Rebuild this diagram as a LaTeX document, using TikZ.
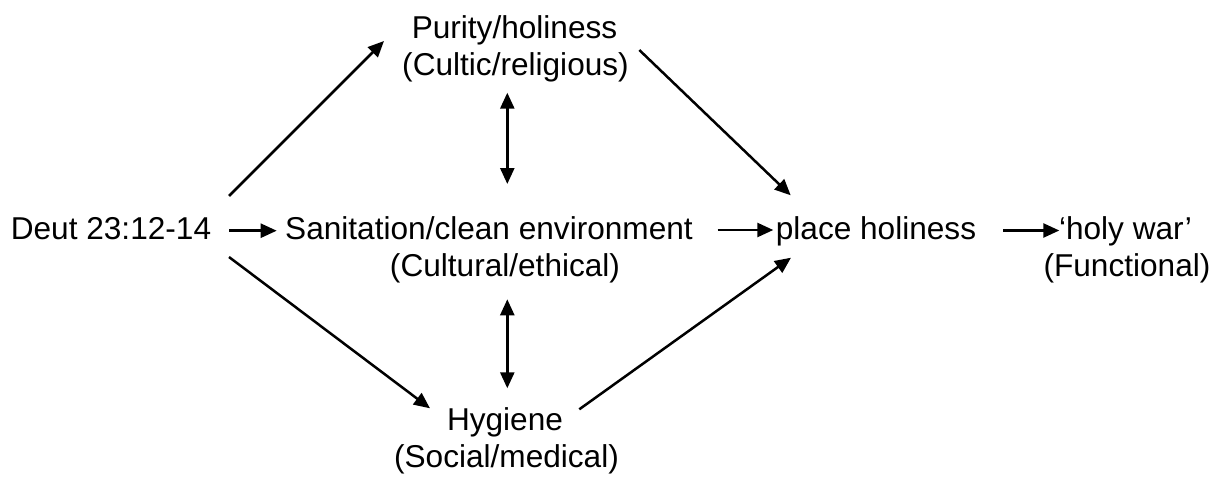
\documentclass[tikz,border=0pt]{standalone}
\usepackage{fontspec}
\setmainfont{Liberation Sans}
\usetikzlibrary{arrows.meta}
\begin{document}
\begin{tikzpicture}[x=1pt,y=-1pt,
  lbl/.style={inner sep=0pt, anchor=base, font=\fontsize{31.6}{37}\selectfont},
  arr/.style={line width=2.5pt, -{Triangle[length=16pt,width=14pt]}},
  darr/.style={line width=2.5pt, {Triangle[length=16pt,width=14pt]}-{Triangle[length=16pt,width=14pt]}}]
\useasboundingbox[fill=white] (0,0) rectangle (1220,479);
\node[lbl] (deut)   at (111,239)   {Deut 23:12-14};
\node[lbl] (purity) at (514.5,38.5) {Purity/holiness};
\node[lbl] (cultic) at (515.5,75.5) {(Cultic/religious)};
\node[lbl] (san)    at (489,239)   {Sanitation/clean environment};
\node[lbl] (cul)    at (505,276)   {(Cultural/ethical)};
\node[lbl] (hyg)    at (505,430.5) {Hygiene};
\node[lbl] (soc)    at (506.5,467) {(Social/medical)};
\node[lbl] (place)  at (876,239)   {place holiness};
\node[lbl] (holy)   at (1125.5,239) {‘holy war’};
\node[lbl] (func)   at (1127,276)  {(Functional)};
% connectors
\draw[arr] ([shift={(118,-43)}]deut.base) -- ([shift={(-130.5,2.5)}]purity.base);
\draw[arr] ([shift={(118,-8.3)}]deut.base) -- ([shift={(-212.3,-8.3)}]san.base);
\draw[arr] ([shift={(118,18)}]deut.base) -- ([shift={(-75,-22.2)}]hyg.base);
\draw[arr] ([shift={(124.8,11.5)}]purity.base) -- ([shift={(-85.3,-43.7)}]place.base);
\draw[arr] ([shift={(228.7,-9)}]san.base) -- ([shift={(-102.7,-9)}]place.base);
\draw[arr] ([shift={(74.3,-21.2)}]hyg.base) -- ([shift={(-85,18.7)}]place.base);
\draw[arr] ([shift={(127,-8.5)}]place.base) -- ([shift={(-66.2,-8.5)}]holy.base);
\draw[darr] ([shift={(-8.2,17.2)}]cultic.base) -- ([shift={(18.3,-55)}]san.base);
\draw[darr] ([shift={(2.3,23.3)}]cul.base) -- ([shift={(2.3,-42.2)}]hyg.base);
\end{tikzpicture}
\end{document}
